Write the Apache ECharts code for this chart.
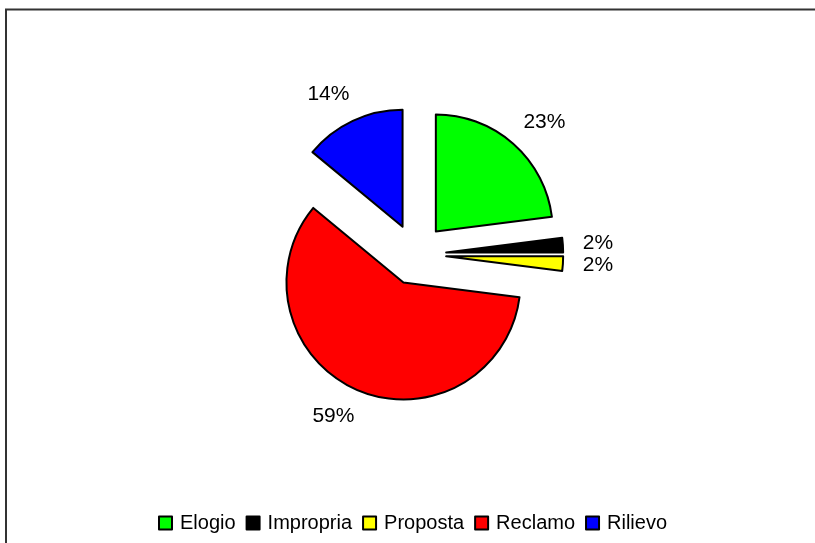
<!DOCTYPE html>
<html>
<head>
<meta charset="utf-8">
<script src="https://cdn.jsdelivr.net/npm/echarts@6/dist/echarts.min.js"></script>
<style>
  html, body { margin: 0; padding: 0; background: #fff; }
  #chart { width: 815px; height: 543px; }
</style>
</head>
<body>
<div id="chart"></div>
<script>
// Categories and their shares (percent)
const categories = ['Elogio', 'Impropria', 'Proposta', 'Reclamo', 'Rilievo'];
const shares = [23, 2, 2, 59, 14];
const colors = ['#00FF00', '#000000', '#FFFF00', '#FF0000', '#0000FF'];

const FONT = '"Liberation Sans", Arial, sans-serif';
const CENTER = [415.6, 254.4];
const RADIUS = 117;
const EXPLODE = 30.6;

const chart = echarts.init(document.getElementById('chart'), null, { renderer: 'canvas' });

// Every slice is pulled out from the centre
const sliceData = categories.map((name, i) => ({
  name: name,
  value: shares[i],
  selected: true,
  itemStyle: { color: colors[i] }
}));

chart.setOption({
  animation: false,
  backgroundColor: '#ffffff',
  legend: {
    top: 513,
    left: 158,
    orient: 'horizontal',
    icon: 'rect',
    itemWidth: 13,
    itemHeight: 13,
    itemGap: 10,
    padding: 0,
    selectedMode: false,
    data: categories,
    textStyle: { fontFamily: FONT, fontSize: 20, color: '#000', padding: [0, 0, 0, 3] }
  },
  graphic: [{
    type: 'rect',
    shape: { x: 6, y: 9.5, width: 840, height: 560 },
    style: { fill: 'none', stroke: '#333333', lineWidth: 2 },
    silent: true,
    z: 100
  }],
  series: [
    {
      type: 'pie',
      center: CENTER,
      radius: RADIUS,
      startAngle: 90,
      clockwise: true,
      selectedMode: 'multiple',
      selectedOffset: EXPLODE,
      avoidLabelOverlap: false,
      percentPrecision: 0,
      label: {
        show: true,
        position: 'outside',
        alignTo: 'none',
        formatter: '{d}%',
        color: '#000',
        fontFamily: FONT,
        fontSize: 21,
        lineHeight: 20,
        distanceToLabelLine: -9,
        textBorderWidth: 0
      },
      labelLine: { show: false, length: 29, length2: 0 },
      labelLayout: { hideOverlap: false },
      itemStyle: { borderColor: '#000', borderWidth: 2 },
      emphasis: { disabled: true },
      select: { itemStyle: { borderColor: '#000', borderWidth: 2 } },
      data: sliceData
    }
  ]
});
</script>
</body>
</html>
